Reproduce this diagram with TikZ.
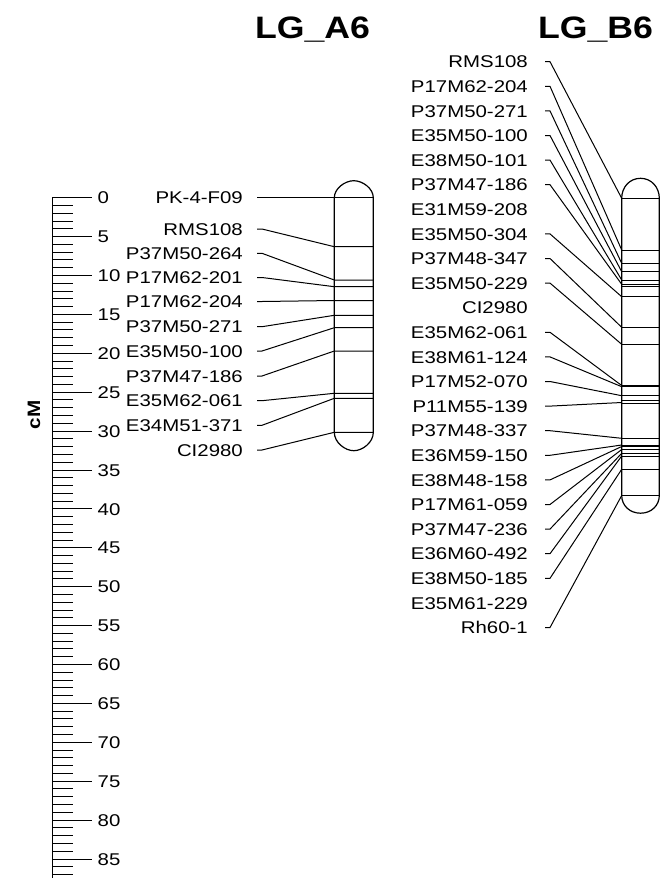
\documentclass[tikz,border=0pt]{standalone}
\usepackage{fontspec}
\setmainfont{Liberation Sans}
\newcommand{\mklab}[1]{\scalebox{1.2}[1]{#1}}
\newcommand{\mktitle}[1]{\scalebox{1.15}[1]{#1}}
\begin{document}
\begin{tikzpicture}[x=1pt,y=-1pt,
  lab/.style={font=\fontsize{17}{19}\selectfont, inner sep=0pt, anchor=base east},
  ticklab/.style={font=\fontsize{17}{19}\selectfont, inner sep=0pt, anchor=base west},
  ttl/.style={font=\bfseries\fontsize{31}{34}\selectfont, inner sep=0pt, anchor=base},
  conn/.style={line width=1pt},
  bandline/.style={line width=1pt},
  chrom/.style={line width=1.2pt},
  tick/.style={line width=1pt}]
\fill[white] (0,0) rectangle (665,878);
\useasboundingbox (0,0) rectangle (665,878);

% ---- ruler ----
\draw[tick] (52,197.7) -- (52,878);
\foreach \i in {0,...,87} {
  \draw[tick] (52,197.7+7.78*\i) -- (73,197.7+7.78*\i);
}
\foreach \i in {0,5,...,85} {
  \draw[tick] (52,197.7+7.78*\i) -- (92,197.7+7.78*\i);
  \node[ticklab] (r\i) at (97.5,197.7+7.78*\i+6.1) {\mklab{\i}};
}
\node[rotate=90, inner sep=0pt, font=\bfseries\fontsize{18}{20}\selectfont] (cm) at (34,415) {\scalebox{1.15}[1]{cM}};

% ---- titles ----
\node[ttl] (tA) at (312.5,38.3) {\mktitle{LG\_A6}};
\node[ttl] (tB) at (595.5,38.3) {\mktitle{LG\_B6}};

% ---- LG_A6 ----
\foreach \t/\ly/\by [count=\k] in {
  PK-4-F09/197.7/197.7, RMS108/229/246.7, P37M50-264/253.3/280,
  P17M62-201/277.5/286.7, P17M62-204/301.5/300.5, P37M50-271/326.7/315.3,
  E35M50-100/351/327.7, P37M47-186/376/351, E35M62-061/400.7/393.3,
  E34M51-371/425.3/398.3, CI2980/450/432.3} {
  \node[lab] (a\k) at (243,\ly+6.1) {\mklab{\t}};
  \coordinate (as\k) at (257,\ly);
  \coordinate (ab\k) at (334.3,\by);
  \coordinate (ae\k) at (373.3,\by);
  \draw[conn] (as\k) -- ++(5,0) -- (ab\k) -- (ae\k);
}
\draw[chrom] (334.3,432.3) -- (334.3,197.7)
  .. controls (334.3,188.4) and (345.1,180.7) .. (353.8,180.7)
  .. controls (362.5,180.7) and (373.3,188.4) .. (373.3,197.7)
  -- (373.3,432.3)
  .. controls (373.3,442.5) and (362.5,450.7) .. (353.8,450.7)
  .. controls (345.1,450.7) and (334.3,442.5) .. (334.3,432.3) -- cycle;

% ---- LG_B6 ----
\foreach \t [count=\k from 0] in {
  RMS108, P17M62-204, P37M50-271, E35M50-100, E38M50-101, P37M47-186,
  E31M59-208, E35M50-304, P37M48-347, E35M50-229, CI2980, E35M62-061,
  E38M61-124, P17M52-070, P11M55-139, P37M48-337, E36M59-150, E38M48-158,
  P17M61-059, P37M47-236, E36M60-492, E38M50-185, E35M61-229, Rh60-1} {
  \node[lab] (b\k) at (528,61.7+24.6*\k+6.1) {\mklab{\t}};
}
\foreach \k/\by in {0/198.3, 1/250, 2/263.3, 3/271.7, 4/280, 5/284.3,
  7/296.7, 8/327.3, 9/344.3, 11/385.5, 12/386.7, 13/395.7, 14/402.5,
  15/438.3, 16/445, 17/446.5, 18/449.5, 19/453.3, 20/456, 21/469.3, 23/495.5} {
  \coordinate (bs\k) at (545,61.7+24.6*\k);
  \coordinate (bb\k) at (621.7,\by);
  \draw[conn] (bs\k) -- ++(5,0) -- (bb\k);
}
\foreach \by in {250, 263.3, 271.7, 280, 284.3, 286.7, 296.7, 327.3, 344.3,
  385.5, 386.7, 395.7, 400, 403.3, 438.3, 445, 446.5, 449.5, 453.3, 456, 469.3} {
  \draw[bandline] (621.7,\by) -- (659.3,\by);
}
\draw[chrom] (621.7,495.5) -- (621.7,198.3)
  .. controls (621.7,187.3) and (629.5,178.3) .. (640.5,178.3)
  .. controls (651.5,178.3) and (659.3,187.3) .. (659.3,198.3)
  -- (659.3,495.5)
  .. controls (659.3,505.3) and (651.5,513.2) .. (640.5,513.2)
  .. controls (629.5,513.2) and (621.7,505.3) .. (621.7,495.5) -- cycle;
\draw[bandline] (621.7,198.3) -- (659.3,198.3);
\draw[bandline] (621.7,495.5) -- (659.3,495.5);
\end{tikzpicture}
\end{document}
